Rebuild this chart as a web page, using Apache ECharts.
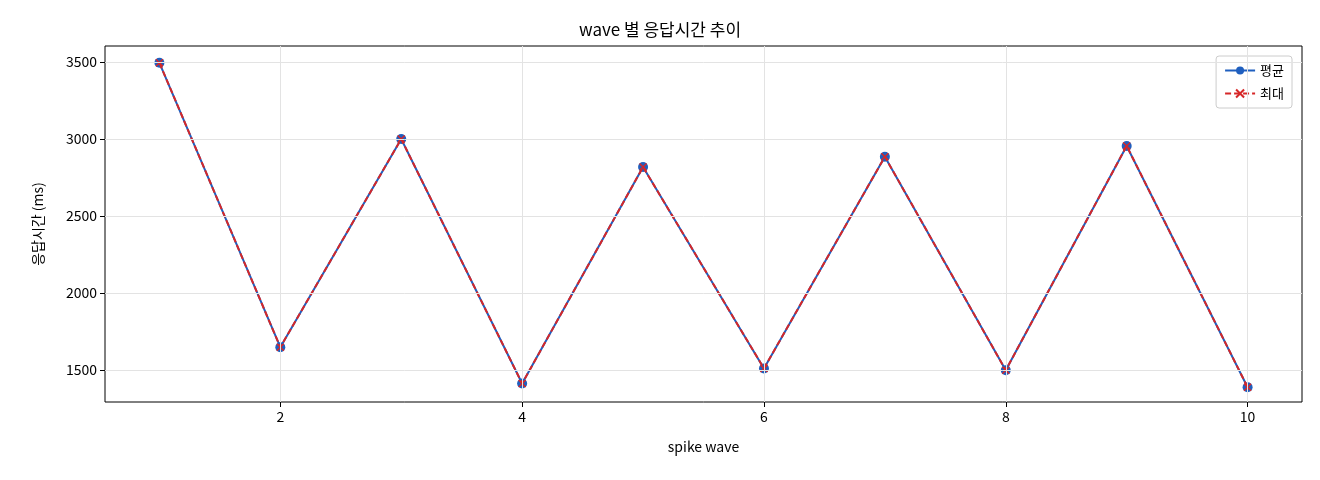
<!DOCTYPE html>
<html><head><meta charset="utf-8">
<script src="https://cdn.jsdelivr.net/npm/echarts@6/dist/echarts.min.js"></script>
<style>html,body{margin:0;padding:0;background:#fff}#c{width:1320px;height:480px}</style>
</head><body><div id="c"></div>
<script>
const waves = [1,2,3,4,5,6,7,8,9,10];
const avgMs = [3495,1648,3000,1412,2818,1510,2885,1498,2955,1388];
const maxMs = [3495,1648,3000,1412,2818,1510,2885,1498,2955,1388];
const xTicks = [2,4,6,8,10];
const yTicks = [1500,2000,2500,3000,3500];
const font = '"Noto Sans CJK KR", "DejaVu Sans", sans-serif';
const chart = echarts.init(document.getElementById('c'));
chart.setOption({
  animation:false,
  textStyle:{fontFamily:font},
  title:{text:'wave 별 응답시간 추이',left:'center',top:16,textStyle:{fontFamily:font,fontSize:17,fontWeight:'normal',color:'#000'}},
  legend:{right:28,top:56,orient:'vertical',itemGap:10,backgroundColor:'#fff',borderColor:'#ccc',borderWidth:1,borderRadius:3,padding:[8,8],
    textStyle:{fontFamily:font,fontSize:13,color:'#000'},itemWidth:30,itemHeight:10,
    data:['평균','최대']},
  grid:{left:105,right:18,top:46,bottom:78,show:true,borderColor:'#000',borderWidth:1},
  xAxis:{type:'value',min:0.55,max:10.45,name:'spike wave',nameLocation:'middle',nameGap:38,
    nameTextStyle:{fontFamily:font,fontSize:14,color:'#000'},
    axisLine:{show:false},
    axisTick:{show:true,customValues:xTicks,length:5,lineStyle:{color:'#000'}},
    axisLabel:{customValues:xTicks,color:'#000',fontSize:14,fontFamily:font},
    splitLine:{show:false}},
  yAxis:{type:'value',min:1292,max:3604,name:'응답시간 (ms)',nameLocation:'middle',nameGap:60,
    nameTextStyle:{fontFamily:font,fontSize:14,color:'#000'},
    axisLine:{show:false},
    axisTick:{show:true,customValues:yTicks,length:5,lineStyle:{color:'#000'}},
    axisLabel:{customValues:yTicks,color:'#000',fontSize:14,fontFamily:font,formatter:v=>String(v)},
    splitLine:{show:false}},
  series:[
    {name:'평균',type:'line',data:waves.map((w,i)=>[w,avgMs[i]]),symbol:'circle',symbolSize:10,
     itemStyle:{color:'#1f5fbf'},lineStyle:{color:'#1f5fbf',width:2},
     markLine:{silent:true,symbol:'none',label:{show:false},lineStyle:{color:'#e3e3e3',width:1,type:'solid'},
       data:[...xTicks.map(v=>({xAxis:v})),...yTicks.map(v=>({yAxis:v}))]},z:2},
    {name:'최대',type:'line',data:waves.map((w,i)=>[w,maxMs[i]]),
     symbol:'path://M0,0 L10,10 M10,0 L0,10',symbolSize:7,
     itemStyle:{color:'#d62728',borderColor:'#d62728',borderWidth:1.5},lineStyle:{color:'#d62728',width:2,type:[6,3]},z:3}
  ]
});
</script></body></html>
